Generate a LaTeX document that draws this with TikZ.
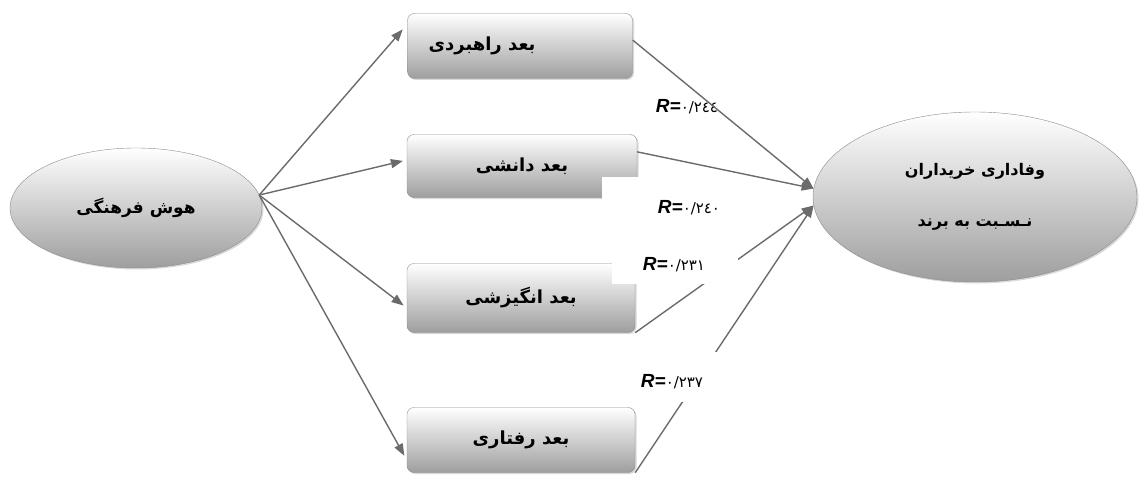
\documentclass[tikz,border=0pt]{standalone}
\usepackage{fontspec}
\newfontfamily\arabicfont[Script=Arabic]{DejaVu Sans}
\newfontfamily\latinsans{Liberation Sans}
\TeXXeTstate=1
\usetikzlibrary{arrows.meta,calc,shadows,shapes.geometric}

\newcommand\rval[1]{{\latinsans\bfseries\itshape\fontsize{19}{21}\selectfont R=}{\arabicfont\fontsize{15}{17}\selectfont #1}}

\begin{document}
\begin{tikzpicture}[x=1pt,y=-1pt,
  box/.style={draw=black!45,rounded corners=7pt,top color=white,bottom color=black!38,
    drop shadow={shadow xshift=1.5pt,shadow yshift=-1.5pt,opacity=0.3},
    minimum width=228pt,minimum height=65pt,
    font=\arabicfont\bfseries\fontsize{18}{20}\selectfont},
  oval/.style={ellipse,draw=black!45,top color=white,bottom color=black!38,
    drop shadow={shadow xshift=1.5pt,shadow yshift=-1.5pt,opacity=0.3},
    align=center,font=\arabicfont\bfseries\fontsize{17}{51}\selectfont},
  arr/.style={draw=black!58,line width=1.4pt,-{Triangle[length=12pt,width=9pt]}},
  rlab/.style={inner sep=0pt}]
\useasboundingbox (0,0) rectangle (1139,481);

% ellipses
\node[oval,minimum width=252pt,minimum height=120pt] (hf) at (136,208) {\beginR هوش فرهنگی\endR};
\node[oval,minimum width=324pt,minimum height=170pt] (loy) at (975,197)
  {\arabicfont\bfseries\fontsize{16}{51}\selectfont\beginR وفاداری خریداران\endR\\
   \arabicfont\bfseries\fontsize{16}{51}\selectfont\beginR نـسـبت به برند\endR};

% the four dimensions
\node[box,minimum width=225pt] (b1) at (520,46)  {\beginR بعد راهبردی\endR\hspace*{76pt}};
\node[box,minimum width=230pt,minimum height=63pt] (b2) at (522,166) {\beginR بعد دانشی\endR};
\node[box,minimum height=69pt] (b3) at (521,298) {\beginR بعد انگیزشی\endR};
\node[box] (b4) at (521,440) {\beginR بعد رفتاری\endR};

% arrows out of the left ellipse
\draw[arr,shorten >=7pt] (hf.6) -- (b1.169);
\draw[arr,shorten >=4pt] (hf.6) -- (b2.177);
\draw[arr,shorten >=4pt] (hf.6) -- (b3.185);
\draw[arr,shorten >=5pt] (hf.6) -- (b4.190);

% lower two lines go under the labels
\draw[arr] (b3.south east) -- (loy.183);
\draw[arr] (b4.south east) -- (loy.183);

% white grounds of the labels
\coordinate (r1) at (687,107);
\coordinate (r2) at (689,208);
\coordinate (r3) at (674,265);
\coordinate (r4) at (672,382);
\fill[white] ($(r2)+(-87,-31)$) rectangle ($(r2)+(63,28)$);
\fill[white] ($(r3)+(-62,-19)$) rectangle ($(r3)+(64,19)$);
\fill[white] ($(r4)+(-42,-30)$) rectangle ($(r4)+(48,20)$);

\node[rlab] (lb1) at (r1) {\rval{٠/٢٤٤}};
\node[rlab] (lb2) at (r2) {\rval{٠/٢٤٠}};
\node[rlab] (lb3) at (r3) {\rval{٠/٢٣١}};
\node[rlab] (lb4) at (r4) {\rval{٠/٢٣٧}};

% upper two lines
\draw[arr] (b1.3) -- (loy.177);
\draw[arr] (b2.7) -- (loy.177);
\end{tikzpicture}
\end{document}
